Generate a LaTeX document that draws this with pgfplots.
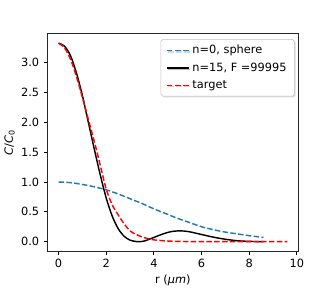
\documentclass[border=0pt]{standalone}
\usepackage{fontspec}
\setmainfont{DejaVu Sans}
\usepackage{pgfplots}
\pgfplotsset{compat=1.18}
\usetikzlibrary{shadows}
\definecolor{mplblue}{HTML}{1F77B4}
\begin{document}
\begin{tikzpicture}
\begin{axis}[
  name=ax,
  scale only axis,
  width=192.75pt, height=167.25pt,
  xmin=-0.48, xmax=10.08, ymin=-0.1665, ymax=3.4965,
  xtick={0,2,4,6,8,10},
  ytick={0,0.5,1,1.5,2,2.5,3},
  yticklabel style={/pgf/number format/.cd,fixed,fixed zerofill,precision=1},
  /pgf/number format/assume math mode=true,
  tick align=outside,
  xtick pos=bottom, ytick pos=left,
  major tick length=2.6pt,
  tick style={line width=0.6pt, black},
  axis line style={line width=0.6pt, black!85},
  ticklabel style={font=\fontsize{8.7}{10}\selectfont},
  label style={font=\fontsize{8.7}{10}\selectfont},
  xlabel={r (\textit{μm})},
  ylabel={\textit{C}/\textit{C}\textsubscript{0}},
  xlabel style={yshift=2pt},
  ylabel style={yshift=-2pt},
  legend style={at={(0.984,0.973)}, anchor=north east, font=\fontsize{8.7}{10}\selectfont,
    draw=black!25, rounded corners=1.5pt, inner xsep=4pt, inner ysep=2.5pt, row sep=1.4pt,
    drop shadow={shadow xshift=1pt, shadow yshift=-1pt, opacity=0.25}},
  legend cell align=left,
]
\addplot[mplblue, line width=1.1pt, dash pattern=on 4.2pt off 1.8pt, smooth] coordinates {
(0,1.0) (0.5,0.99) (1.0,0.96) (1.5,0.92) (2.0,0.87) (2.5,0.80) (3.0,0.72) (3.5,0.64)
(4.0,0.55) (4.5,0.47) (5.0,0.39) (5.5,0.32) (6.0,0.25) (6.5,0.20) (7.0,0.16) (7.5,0.13)
(8.0,0.10) (8.6,0.07)};
\addlegendentry{n=0, sphere}
\addplot[black, line width=1.1pt, smooth] coordinates {
(0,3.33) (0.25,3.28) (0.5,3.12) (0.75,2.83) (1.0,2.45) (1.25,2.0) (1.5,1.55) (1.75,1.12)
(2.0,0.73) (2.25,0.43) (2.5,0.22) (2.75,0.09) (3.0,0.025) (3.25,0.002) (3.4,0.0) (3.6,0.01)
(3.8,0.04) (4.0,0.07) (4.25,0.11) (4.5,0.145) (4.75,0.17) (5.0,0.18) (5.25,0.178) (5.5,0.165)
(6.0,0.12) (6.5,0.075) (7.0,0.04) (7.5,0.015) (8.0,0.004) (8.6,0.0)};
\addlegendentry{n=15, F =99995}
\addplot[red, line width=1.1pt, dash pattern=on 4.2pt off 1.8pt, smooth] coordinates {
(0,3.33) (0.25,3.25) (0.5,3.06) (0.75,2.77) (1.0,2.42) (1.25,2.05) (1.5,1.68) (1.75,1.28)
(2.0,0.88) (2.25,0.62) (2.5,0.45) (2.75,0.30) (3.0,0.18) (3.25,0.12) (3.5,0.08) (3.75,0.05)
(4.0,0.03) (4.5,0.012) (5.0,0.004) (5.5,0.001) (6.0,0) (7,0) (8,0) (9,0) (9.6,0)};
\addlegendentry{target}
\end{axis}
\path ([shift={(-30.75pt,-24pt)}]ax.south west) rectangle ([shift={(218.25pt,192.75pt)}]ax.south west);
\end{tikzpicture}
\end{document}
